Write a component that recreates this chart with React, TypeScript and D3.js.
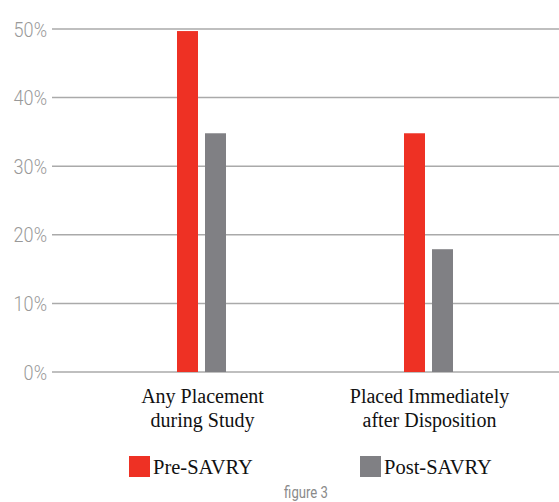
import React from "react";
import * as d3 from "d3";

const categories = [["Any Placement", "during Study"], ["Placed Immediately", "after Disposition"]];
const categoryKeys = ["any", "placed"];
const series = ["Pre-SAVRY", "Post-SAVRY"];
const preValues = [49.7, 34.8];
const postValues = [34.8, 17.9];
const yTicks = [0, 10, 20, 30, 40, 50];
const colors = ["#EE3124", "#808084"];

export default function App() {
  const W = 559, H = 502;
  const y = d3.scaleLinear().domain([0, 50]).range([372, 29]);
  const x0 = d3.scaleBand().domain(categoryKeys).range([88, 542]);
  const x1 = d3.scaleBand().domain(series).range([0, 49]).paddingInner(0.25);
  const vals = [preValues, postValues];
  const serif = "'Liberation Serif', 'Times New Roman', serif";
  const sans = "Roboto, 'DejaVu Sans', sans-serif";
  return (
    <svg width={W} height={H} style={{ position: "absolute", left: 0, top: 0 }}>
      <rect width={W} height={H} fill="#fff" />
      {yTicks.map((t) => (
        <g key={t}>
          <line x1={52} x2={W} y1={y(t)} y2={y(t)} stroke="#aaaaaa" strokeWidth={1.5} />
          <text transform={`translate(47,${y(t)}) scale(0.86,1)`} dy="0.36em" textAnchor="end" fontFamily={sans} fontSize={21} fontWeight={300} fill="#999999">
            {t}%
          </text>
        </g>
      ))}
      {categoryKeys.map((k, i) => {
        const cx = (x0(k) as number) + x0.bandwidth() / 2;
        return (
          <g key={k}>
            {series.map((s, j) => (
              <rect key={s} x={cx - 24.5 + (x1(s) as number)} width={x1.bandwidth()} y={y(vals[j][i])} height={y(0) - y(vals[j][i])} fill={colors[j]} />
            ))}
            {categories[i].map((line, li) => (
              <text key={li} x={cx + 1} y={403 + li * 24} textAnchor="middle" fontFamily={serif} fontSize={20} fill="#111">
                {line}
              </text>
            ))}
          </g>
        );
      })}
      {series.map((s, j) => {
        const lx = j === 0 ? 129 : 360;
        return (
          <g key={s}>
            <rect x={lx} y={456} width={21} height={21} fill={colors[j]} />
            <text x={lx + 24} y={474} fontFamily={serif} fontSize={20.5} fill="#111">{s}</text>
          </g>
        );
      })}
      <text transform="translate(306,498) scale(0.82,1)" textAnchor="middle" fontFamily={sans} fontSize={16} fill="#8a8a8a">
        figure 3
      </text>
    </svg>
  );
}
